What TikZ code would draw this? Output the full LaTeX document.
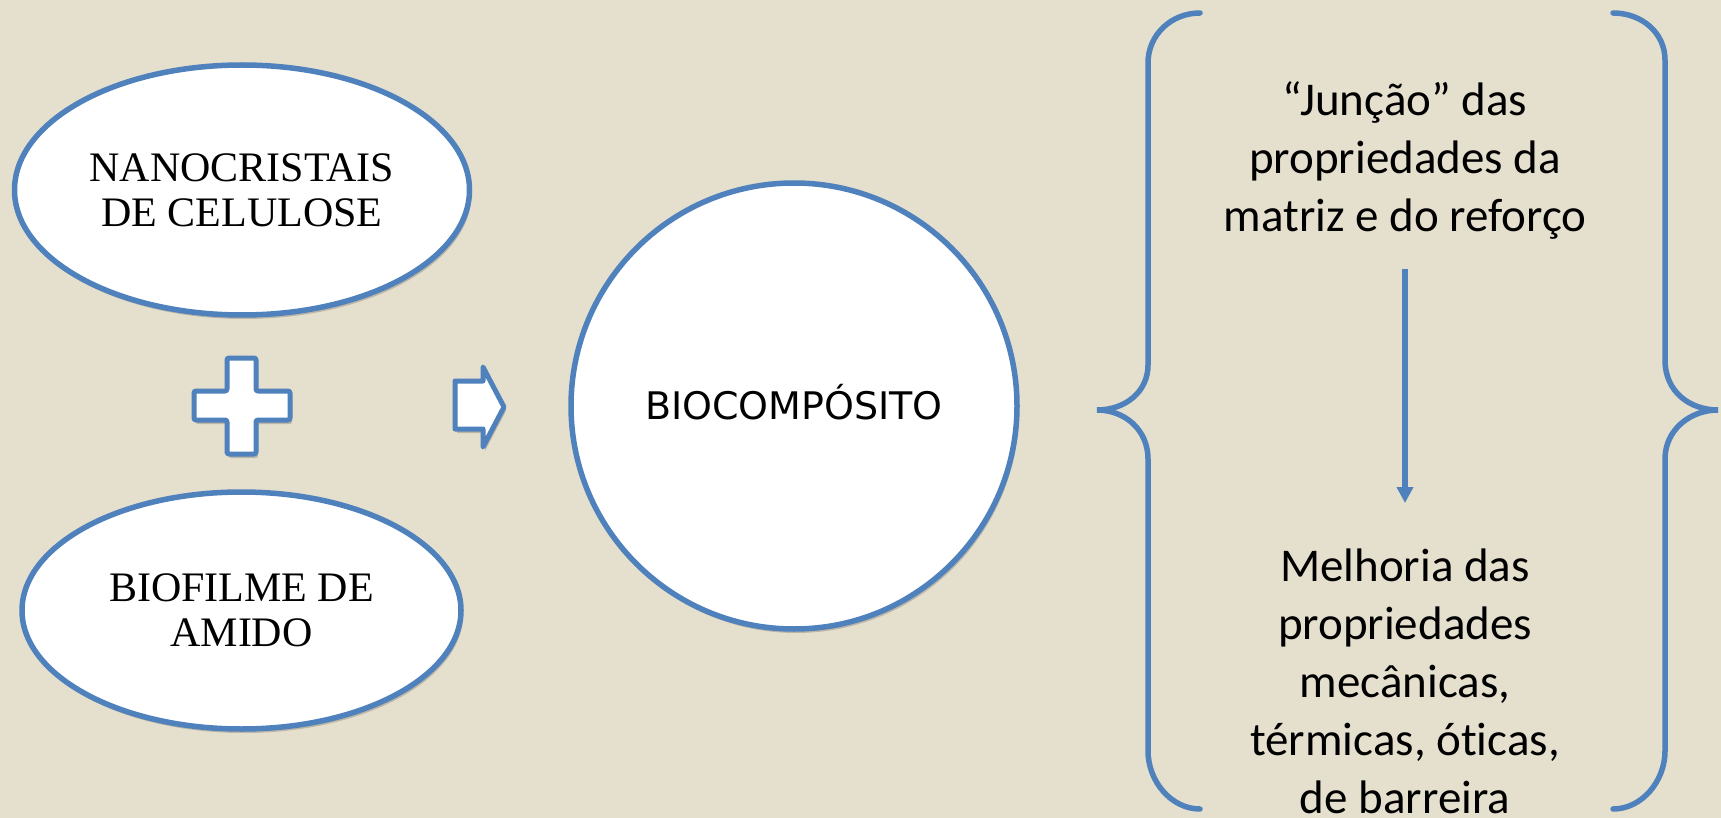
\documentclass[tikz,border=0pt]{standalone}
\usepackage{fontspec}
\setmainfont{Liberation Serif}
\newfontfamily\carlitofont[Ligatures=NoCommon]{Carlito}
\newfontfamily\dejavufont{DejaVu Sans}
\usetikzlibrary{shapes.geometric,arrows.meta,shadows}
\definecolor{bgc}{HTML}{E5DFCE}
\definecolor{blueline}{HTML}{4F81BD}
\begin{document}
\begin{tikzpicture}[x=1pt,y=-1pt,
  shp/.style={draw=blueline, line width=5.5pt, fill=white, line join=round,
    drop shadow={shadow xshift=2pt, shadow yshift=-4pt, opacity=0.18, fill=black}},
  oval/.style={shp, ellipse, inner sep=0pt, align=center,
    font=\fontsize{42}{45}\selectfont},
  brace/.style={draw=blueline, line width=5.5pt, line cap=round},
  conn/.style={draw=blueline, line width=6pt, -{Triangle[width=16pt,length=16pt]}},
  rtext/.style={align=center, font=\carlitofont\fontsize{47}{58}\selectfont, inner sep=0pt}]
\fill[bgc] (0,0) rectangle (1721,818);
\useasboundingbox (0,0) rectangle (1721,818);

% left ovals
\node[oval, minimum width=455pt, minimum height=250pt] (nano) at (242,190)
  {NANOCRISTAIS\\DE CELULOSE};
\node[oval, minimum width=439pt, minimum height=237pt] (bio) at (241.5,610.5)
  {BIOFILME DE\\AMIDO};

% plus sign
\draw[shp, line width=5pt, rounded corners=2pt]
  (227,358) -- (256,358) -- (256,391) -- (290,391) -- (290,420) -- (256,420)
  -- (256,454) -- (227,454) -- (227,420) -- (194,420) -- (194,391) -- (227,391) -- cycle;

% block arrow
\draw[shp, line width=5pt]
  (455,381) -- (483,381) -- (483,367) -- (504,407) -- (483,447) -- (483,429) -- (455,429) -- cycle;

% circle
\node[shp, circle, minimum size=446pt, inner sep=0pt,
  font=\dejavufont\fontsize{38}{44}\selectfont, text height=27.5pt, text depth=0pt]
  (comp) at (794,406) {BIOCOMPÓSITO};

% braces
\draw[brace] (1200,13) .. controls (1171,13) and (1148,35) .. (1148,63)
  -- (1148,365) .. controls (1148,392) and (1125,410) .. (1097,410)
  .. controls (1125,410) and (1148,430) .. (1148,459)
  -- (1148,751) .. controls (1148,781) and (1171,809) .. (1200,809);
\draw[brace] (1613,13) .. controls (1642,13) and (1665,33) .. (1665,60)
  -- (1665,360) .. controls (1665,392) and (1690,410) .. (1718,410)
  .. controls (1690,410) and (1665,430) .. (1665,459)
  -- (1665,751) .. controls (1665,781) and (1642,809) .. (1613,809);

% right texts
\node[rtext, anchor=base] (jun) at (1405,232)
  {“Junção” das\\propriedades da\\matriz e do reforço};
\node[rtext, anchor=base] (mel) at (1405,813)
  {Melhoria das\\propriedades\\mecânicas,\\térmicas, óticas,\\de barreira};

\coordinate (a1) at (1405,269);
\coordinate (a2) at (1405,503);
\draw[conn] (a1) -- (a2);
\end{tikzpicture}
\end{document}
